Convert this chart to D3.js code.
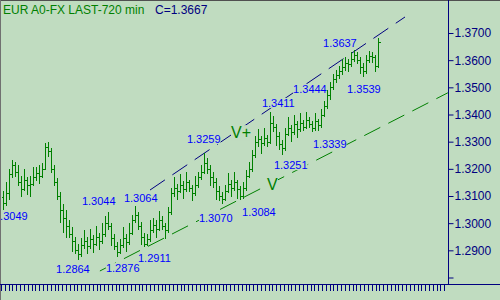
<!DOCTYPE html>
<html>
<head>
<meta charset="utf-8">
<script src="https://cdn.jsdelivr.net/npm/d3@7"></script>
<style>
  body { margin: 0; background: #c0dcc0; }
  svg { display: block; font-family: "Liberation Sans", Arial, sans-serif; }
</style>
</head>
<body>
<div id="chart"></div>
<script>
// EUR 720 min bars
const opens = [
  1.3095,1.3075,1.3110,1.3180,1.3215,1.3190,1.3150,1.3125,1.3160,1.3140,
  1.3145,1.3170,1.3185,1.3175,1.3200,1.3280,1.3265,1.3200,1.3150,1.3100,
  1.3050,1.3020,1.2990,1.2960,1.2935,1.2900,1.2885,1.2920,1.2935,1.2915,
  1.2940,1.2925,1.2950,1.2935,1.2960,1.3000,1.2990,1.2945,1.2915,1.2895,
  1.2920,1.2945,1.2930,1.2965,1.3010,1.3030,1.2990,1.2950,1.2925,1.2940,
  1.2975,1.2995,1.2980,1.3010,1.2990,1.2975,1.3040,1.3110,1.3130,1.3120,
  1.3140,1.3125,1.3150,1.3130,1.3110,1.3140,1.3170,1.3190,1.3220,1.3200,
  1.3170,1.3150,1.3120,1.3100,1.3090,1.3120,1.3145,1.3130,1.3150,1.3125,
  1.3100,1.3130,1.3175,1.3200,1.3250,1.3300,1.3310,1.3295,1.3315,1.3300,
  1.3370,1.3355,1.3320,1.3290,1.3275,1.3330,1.3350,1.3335,1.3365,1.3345,
  1.3370,1.3355,1.3380,1.3365,1.3350,1.3375,1.3360,1.3400,1.3430,1.3470,
  1.3500,1.3530,1.3545,1.3560,1.3575,1.3590,1.3585,1.3605,1.3620,1.3600,
  1.3575,1.3560,1.3600,1.3615,1.3610,1.3580];
const highs = [
  1.3120,1.3150,1.3200,1.3231,1.3225,1.3215,1.3175,1.3200,1.3170,1.3175,
  1.3205,1.3205,1.3215,1.3220,1.3295,1.3300,1.3275,1.3215,1.3165,1.3115,
  1.3070,1.3050,1.3010,1.2985,1.2950,1.2925,1.2945,1.2975,1.2950,1.2980,
  1.2955,1.2990,1.2965,1.3000,1.3025,1.3040,1.3000,1.2960,1.2930,1.2940,
  1.2985,1.2960,1.3000,1.3030,1.3064,1.3040,1.3005,1.2965,1.2960,1.3010,
  1.3020,1.3010,1.3045,1.3025,1.3000,1.3060,1.3130,1.3170,1.3145,1.3180,
  1.3155,1.3190,1.3160,1.3140,1.3175,1.3190,1.3215,1.3259,1.3240,1.3215,
  1.3190,1.3165,1.3135,1.3115,1.3140,1.3185,1.3160,1.3190,1.3160,1.3135,
  1.3150,1.3195,1.3225,1.3270,1.3320,1.3345,1.3320,1.3350,1.3325,1.3411,
  1.3395,1.3365,1.3335,1.3305,1.3350,1.3390,1.3360,1.3400,1.3375,1.3405,
  1.3380,1.3410,1.3390,1.3375,1.3405,1.3385,1.3420,1.3450,1.3490,1.3520,
  1.3550,1.3565,1.3580,1.3605,1.3610,1.3605,1.3630,1.3637,1.3630,1.3610,
  1.3590,1.3620,1.3635,1.3630,1.3620,1.3682];
const lows = [
  1.3049,1.3065,1.3085,1.3165,1.3170,1.3135,1.3095,1.3118,1.3105,1.3095,
  1.3135,1.3155,1.3145,1.3165,1.3195,1.3245,1.3185,1.3135,1.3085,1.3000,
  1.2965,1.2945,1.2945,1.2895,1.2885,1.2864,1.2875,1.2905,1.2885,1.2905,
  1.2890,1.2915,1.2900,1.2925,1.2950,1.2975,1.2915,1.2900,1.2876,1.2885,
  1.2910,1.2895,1.2920,1.2955,1.3000,1.2975,1.2920,1.2911,1.2915,1.2930,
  1.2965,1.2945,1.2970,1.2975,1.2940,1.2965,1.3030,1.3095,1.3085,1.3110,
  1.3090,1.3115,1.3115,1.3080,1.3100,1.3130,1.3160,1.3180,1.3180,1.3135,
  1.3130,1.3085,1.3080,1.3070,1.3080,1.3110,1.3095,1.3120,1.3090,1.3084,
  1.3090,1.3120,1.3165,1.3190,1.3240,1.3280,1.3255,1.3285,1.3280,1.3290,
  1.3335,1.3285,1.3270,1.3251,1.3265,1.3320,1.3300,1.3325,1.3315,1.3335,
  1.3340,1.3345,1.3350,1.3335,1.3340,1.3339,1.3350,1.3390,1.3420,1.3455,
  1.3490,1.3515,1.3530,1.3545,1.3560,1.3555,1.3575,1.3595,1.3585,1.3550,
  1.3539,1.3550,1.3590,1.3590,1.3555,1.3570];
const closes = [
  1.3075,1.3110,1.3180,1.3215,1.3190,1.3150,1.3125,1.3160,1.3140,1.3145,
  1.3170,1.3185,1.3175,1.3200,1.3280,1.3265,1.3200,1.3150,1.3100,1.3050,
  1.3020,1.2990,1.2960,1.2935,1.2900,1.2885,1.2920,1.2935,1.2915,1.2940,
  1.2925,1.2950,1.2935,1.2960,1.3000,1.2990,1.2945,1.2915,1.2895,1.2920,
  1.2945,1.2930,1.2965,1.3010,1.3030,1.2990,1.2950,1.2925,1.2940,1.2975,
  1.2995,1.2980,1.3010,1.2990,1.2975,1.3040,1.3110,1.3130,1.3120,1.3140,
  1.3125,1.3150,1.3130,1.3110,1.3140,1.3170,1.3190,1.3220,1.3200,1.3170,
  1.3150,1.3120,1.3100,1.3090,1.3120,1.3145,1.3130,1.3150,1.3125,1.3100,
  1.3130,1.3175,1.3200,1.3250,1.3300,1.3310,1.3295,1.3315,1.3300,1.3370,
  1.3355,1.3320,1.3290,1.3275,1.3330,1.3350,1.3335,1.3365,1.3345,1.3370,
  1.3355,1.3380,1.3365,1.3350,1.3375,1.3360,1.3400,1.3430,1.3470,1.3500,
  1.3530,1.3545,1.3560,1.3575,1.3590,1.3585,1.3605,1.3620,1.3600,1.3575,
  1.3560,1.3600,1.3615,1.3610,1.3580,1.3667];

const yTicks = [1.28, 1.29, 1.30, 1.31, 1.32, 1.33, 1.34, 1.35, 1.36, 1.37];

// trend channel, [bar index, price]
const upperTrend = [[49, 1.3122], [134, 1.3759]];
const lowerTrend = [[32.3, 1.2824], [148.3, 1.3480]];

// pivot labels, anchored at [bar index, price] (left/baseline)
const labelTexts  = ["1.3049","1.2864","1.3044","1.2876","1.3064","1.2911","1.3259","1.3070",
                     "1.3084","1.3411","1.3251","1.3444","1.3339","1.3637","1.3539"];
const labelBars   = [-3, 17.7, 26.3, 34.3, 40.3, 45, 61.3, 65.3, 79.7, 86.3, 90.3, 96.7, 103.3, 106.7, 114.7];
const labelPrices = [1.3011, 1.2816, 1.3067, 1.2820, 1.3078, 1.2857, 1.3295, 1.3004,
                     1.3026, 1.3428, 1.3199, 1.3479, 1.3277, 1.3648, 1.3479];
const waveTexts  = ["V+", "V"];
const waveBars   = [76, 88];
const wavePrices = [1.3313, 1.3122];

const W = 500, H = 300;
const plotRight = 448, plotBottom = 284;
const bg = "#c0dcc0", navy = "#000080", green = "#008000";

const svg = d3.select("#chart").append("svg")
    .attr("width", W)
    .attr("height", H);

svg.append("rect").attr("width", W).attr("height", H).attr("fill", bg);

const x = d3.scaleLinear().domain([0, opens.length - 1]).range([3, 378]);
const y = d3.scaleLinear().domain([1.28, 1.37]).range([277.5, 33]);

svg.append("clipPath").attr("id", "plot")
  .append("rect").attr("width", plotRight).attr("height", plotBottom);

// trend lines
const line = d3.line().x(d => x(d[0])).y(d => y(d[1]));
const trends = svg.append("g").attr("clip-path", "url(#plot)").attr("fill", "none");
trends.append("path").datum(upperTrend).attr("d", line)
    .attr("stroke", navy).attr("stroke-dasharray", "18,9");
trends.append("path").datum(lowerTrend).attr("d", line)
    .attr("stroke", green).attr("stroke-dasharray", "18,9");

// labels with a background box that hides the line under them
function addLabel(g, txt, bx, py, size, color) {
  const t = g.append("text")
      .attr("x", x(bx)).attr("y", y(py))
      .attr("font-size", size).attr("fill", color)
      .text(txt);
  const b = t.node().getBBox();
  g.insert("rect", "text")
      .attr("x", b.x).attr("y", b.y + 1)
      .attr("width", b.width).attr("height", b.height - 2)
      .attr("fill", bg);
}
const labels = svg.append("g");
labelTexts.forEach((t, i) => addLabel(labels, t, labelBars[i], labelPrices[i], 11, "#0000ff"));
waveTexts.forEach((t, i) => addLabel(labels, t, waveBars[i], wavePrices[i], 16, green));

// OHLC bars
const bars = opens.map((o, i) => ({ i, o, h: highs[i], l: lows[i], c: closes[i] }));
svg.append("g")
    .attr("stroke", green)
    .attr("shape-rendering", "crispEdges")
    .selectAll("path")
    .data(bars)
    .enter()
    .append("path")
    .attr("d", d => {
      const xi = Math.round(x(d.i)) + 0.5;
      return `M${xi},${Math.round(y(d.h))}V${Math.round(y(d.l))}` +
             `M${xi - 2},${Math.round(y(d.o)) + 0.5}H${xi}` +
             `M${xi},${Math.round(y(d.c)) + 0.5}H${xi + 2}`;
    });

// frame
svg.append("line").attr("x1", 0).attr("x2", W).attr("y1", 0.5).attr("y2", 0.5).attr("stroke", "#505050");
svg.append("line").attr("x1", 0.5).attr("x2", 0.5).attr("y1", 0).attr("y2", H).attr("stroke", "#707070");

// price axis
const fmt = d3.format(".4f");
const yAxis = d3.axisRight(y)
    .tickValues(yTicks)
    .tickSize(5)
    .tickPadding(1)
    .tickFormat(d => d >= 1.285 ? fmt(d) : "");
const ya = svg.append("g")
    .attr("transform", `translate(${plotRight + 0.5},0)`)
    .call(yAxis);
ya.select(".domain").remove();
ya.selectAll("line").attr("stroke", navy);
ya.selectAll("text").attr("fill", navy).attr("font-size", 12)
    .attr("font-family", "Liberation Sans, Arial, sans-serif");

svg.append("line")
    .attr("x1", plotRight + 0.5).attr("x2", plotRight + 0.5)
    .attr("y1", 0).attr("y2", plotBottom)
    .attr("stroke", navy);

// time axis
svg.append("line")
    .attr("x1", 0).attr("x2", W)
    .attr("y1", plotBottom + 0.5).attr("y2", plotBottom + 0.5)
    .attr("stroke", navy);
const tx = d3.scaleLinear().domain([0, 116]).range([1, 444.3]);
svg.append("g")
    .attr("stroke", navy)
    .attr("shape-rendering", "crispEdges")
    .selectAll("line")
    .data(d3.range(117))
    .enter()
    .append("line")
    .attr("x1", d => Math.round(tx(d)) + 0.5)
    .attr("x2", d => Math.round(tx(d)) + 0.5)
    .attr("y1", plotBottom)
    .attr("y2", plotBottom + 7);

// title
const title = svg.append("text").attr("x", 3).attr("y", 13.5).attr("font-size", 12);
title.append("tspan").attr("fill", green).text("EUR A0-FX LAST-720 min");
title.append("tspan").attr("fill", navy).attr("x", 155).text("C=1.3667");
</script>
</body>
</html>
